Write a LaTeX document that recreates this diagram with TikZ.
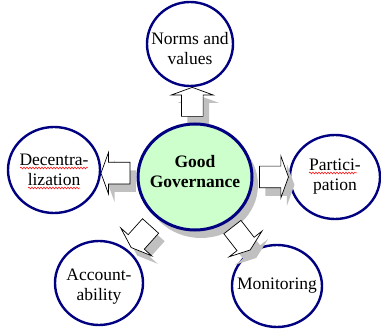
\documentclass[tikz,border=0pt]{standalone}
\usepackage{fontspec}
\setmainfont{Liberation Serif}
\usetikzlibrary{positioning,calc,backgrounds,shapes.geometric,shapes.arrows,decorations.pathmorphing}

\definecolor{ringblue}{RGB}{0,0,128}
\definecolor{hubgreen}{RGB}{204,255,204}
\definecolor{shade}{RGB}{192,192,192}

\begin{document}
\begin{tikzpicture} [x=1pt, y=-1pt,
                    every label/.style={align=center, inner sep=0pt, font=\fontsize{17.5}{20}\selectfont},
                    ring/.style={ellipse, draw=ringblue, line width=2.4pt, fill=white, inner sep=0pt},
                    hub/.style={ring, fill=hubgreen, line width=3pt, minimum width=114, minimum height=106},
                    blockarrow/.style={single arrow, draw=black, line width=0.7pt, fill=white,
                        inner xsep=0pt, inner ysep=10.5pt, text height=0pt, text depth=0pt,
                        minimum height=29, single arrow head extend=10, single arrow tip angle=140},
                    arrowshade/.style={blockarrow, draw=none, fill=shade},
                    spell/.style={red, line width=0.5pt, decorate, decoration={snake, amplitude=0.9pt, segment length=3pt}}]

\useasboundingbox (0,0) rectangle (381,329);

\node[hub, label={[shift={(0,-5)}, font=\fontsize{17.5}{20}\selectfont\bfseries]center:Good\\Governance}] (gg) at (195,177) {};

\begin{scope}[on background layer]
\node[ring, minimum width=86, minimum height=84, label={[shift={(0,5)}]center:Norms and\\values}] (norms) at (190,44) {};
\node[ring, minimum width=92, minimum height=86, label={center:Decentra-\\lization}] (decen) at (54,170) {};
\node[ring, minimum width=90, minimum height=84, label={center:Partici-\\pation}] (partic) at (335,177) {};
\node[ring, minimum width=88, minimum height=84, label={[shift={(0,4)}]center:Account-\\ability}] (account) at (99,283) {};
\node[ring, minimum width=90, minimum height=82, label={center:Monitoring}] (monitor) at (277,286) {};

% grey shades under the hub and the arrows
\node[ellipse, fill=shade, inner sep=0pt, minimum width=114, minimum height=106] at ($(gg)+(6,8)$) {};
\foreach \t/\a in {norms/90, decen/180, partic/0, account/228, monitor/-52}
  \node[arrowshade, rotate=\a] at ($(gg)!.55!(\t)+(6,8)$) {};
\end{scope}

\foreach \t/\a in {norms/90, decen/180, partic/0, account/228, monitor/-52}
  \node[blockarrow, rotate=\a] (to-\t) at ($(gg)!.55!(\t)$) {};

% spelling marks
\draw[spell] ([shift={(-34,-2)}]decen.center) -- ([shift={(34,-2)}]decen.center);
\draw[spell] ([shift={(-26,18)}]decen.center) -- ([shift={(26,18)}]decen.center);
\draw[spell] ([shift={(-26,-4)}]partic.center) -- ([shift={(22,-4)}]partic.center);
\end{tikzpicture}
\end{document}
